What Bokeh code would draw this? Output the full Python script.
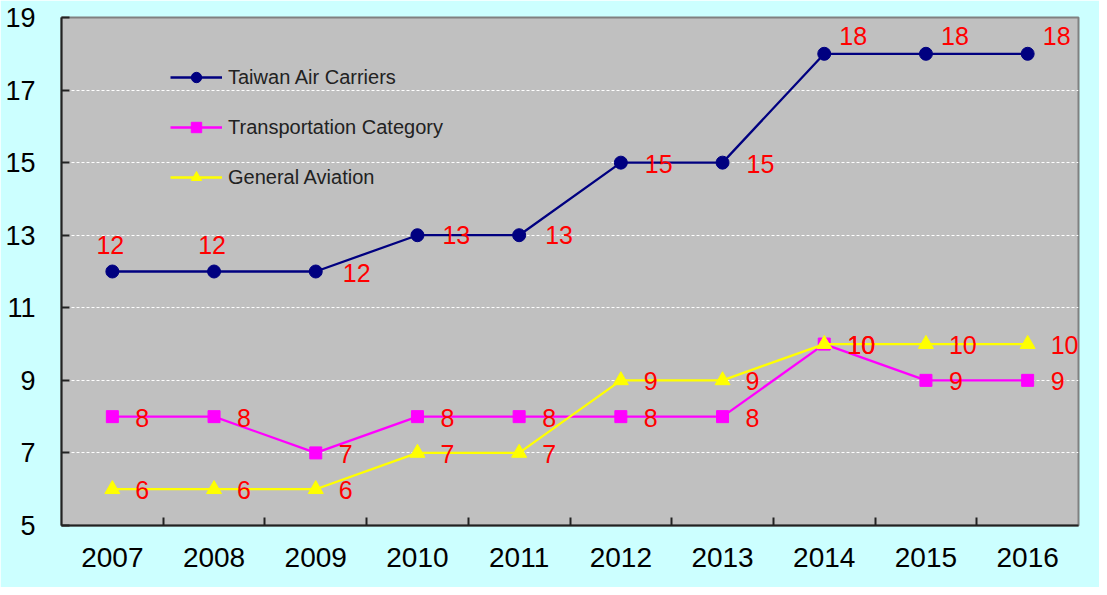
from bokeh.plotting import figure
from bokeh.models import ColumnDataSource, Range1d, FixedTicker, Legend, LegendItem
from bokeh.embed import file_html
from bokeh.resources import INLINE

# ---------------- data ----------------
years = ["2007", "2008", "2009", "2010", "2011", "2012", "2013", "2014", "2015", "2016"]
taiwan_air_carriers = [12, 12, 12, 13, 13, 15, 15, 18, 18, 18]
transportation_category = [8, 8, 7, 8, 8, 8, 8, 10, 9, 9]
general_aviation = [6, 6, 6, 7, 7, 9, 9, 10, 10, 10]
y_ticks = [5, 7, 9, 11, 13, 15, 17, 19]

# ---------------- label placement (style) ----------------
taiwan_label_align = ["center", "center", "left", "left", "left", "left", "left", "center", "center", "center"]
taiwan_label_dx = [-2, -2, 27, 25, 26, 24, 24, 29, 29, 29]
taiwan_label_dy = [-27, -27, 1, 0, 0, 1, 1, -18, -18, -18]

FONT = "Liberation Sans"
x_pos = [i + 0.5 for i in range(len(years))]

p = figure(width=1099, height=587, output_backend="svg", toolbar_location=None,
           x_range=Range1d(0, len(years)), y_range=Range1d(y_ticks[0], y_ticks[-1]),
           min_border_left=61, min_border_right=21, min_border_top=17, min_border_bottom=62)
p.border_fill_color = "#CCFFFF"
p.background_fill_color = "#C0C0C0"
p.outline_line_color = "#808080"
p.outline_line_width = 2

# axes
p.xaxis.ticker = FixedTicker(ticks=x_pos, minor_ticks=list(range(1, len(years))))
p.xaxis.major_label_overrides = {x: y for x, y in zip(x_pos, years)}
p.xaxis.major_tick_line_color = None
p.xaxis.minor_tick_in = 8
p.xaxis.minor_tick_out = 0
p.xaxis.minor_tick_line_color = "#222222"
p.xaxis.minor_tick_line_width = 2
p.xaxis.major_label_text_font = FONT
p.xaxis.major_label_text_font_size = "28px"
p.xaxis.major_label_text_color = "#000000"
p.xaxis.major_label_standoff = 16
p.xaxis.axis_line_color = "#222222"
p.xaxis.axis_line_width = 2

p.yaxis.ticker = FixedTicker(ticks=y_ticks, minor_ticks=[])
p.yaxis.major_tick_in = 8
p.yaxis.major_tick_out = 0
p.yaxis.major_tick_line_color = "#222222"
p.yaxis.major_tick_line_width = 2
p.yaxis.major_label_text_font = FONT
p.yaxis.major_label_text_font_size = "27px"
p.yaxis.major_label_text_color = "#000000"
p.yaxis.major_label_standoff = 26
p.yaxis.axis_line_color = "#222222"
p.yaxis.axis_line_width = 2

p.xgrid.grid_line_color = None
p.ygrid.grid_line_color = "white"
p.ygrid.grid_line_dash = "3 2"
p.ygrid.grid_line_width = 1

# series
src_t = ColumnDataSource(dict(x=x_pos, y=taiwan_air_carriers, text=[str(v) for v in taiwan_air_carriers],
                              align=taiwan_label_align, dx=taiwan_label_dx, dy=taiwan_label_dy))
src_p = ColumnDataSource(dict(x=x_pos, y=transportation_category, text=[str(v) for v in transportation_category]))
src_g = ColumnDataSource(dict(x=x_pos, y=general_aviation, text=[str(v) for v in general_aviation]))

lt = p.line("x", "y", source=src_t, line_color="#000080", line_width=2.3)
mt = p.scatter("x", "y", source=src_t, marker="circle", size=13, fill_color="#000080", line_color="#000080")
lp = p.line("x", "y", source=src_p, line_color="#FF00FF", line_width=2.3)
mp = p.scatter("x", "y", source=src_p, marker="square", size=12, fill_color="#FF00FF", line_color="#FF00FF")
lg = p.line("x", "y", source=src_g, line_color="#FFFF00", line_width=2.3)
mg = p.scatter("x", "y", source=src_g, marker="triangle", size=15, fill_color="#FFFF00", line_color="#FFFF00")

# value labels
p.text("x", "y", text="text", source=src_t, text_align="align", x_offset="dx", y_offset="dy",
       text_baseline="middle", text_color="#FF0000", text_font_size="25px", text_font={"value": FONT})
p.text("x", "y", text="text", source=src_p, text_align="left", x_offset=23, y_offset=1,
       text_baseline="middle", text_color="#FF0000", text_font_size="25px", text_font={"value": FONT})
p.text("x", "y", text="text", source=src_g, text_align="left", x_offset=23, y_offset=1,
       text_baseline="middle", text_color="#FF0000", text_font_size="25px", text_font={"value": FONT})

legend = Legend(items=[
    LegendItem(label="Taiwan Air Carriers", renderers=[lt, mt]),
    LegendItem(label="Transportation Category", renderers=[lp, mp]),
    LegendItem(label="General Aviation", renderers=[lg, mg]),
], location=(109, 335))
legend.background_fill_alpha = 0
legend.border_line_color = None
legend.margin = 0
legend.padding = 0
legend.spacing = 24
legend.glyph_width = 52
legend.glyph_height = 26
legend.label_height = 26
legend.label_standoff = 6
legend.label_text_font = FONT
legend.label_text_font_size = "20px"
legend.label_text_color = "#222222"
p.add_layout(legend)

open("out.html", "w").write(file_html(p, INLINE))
